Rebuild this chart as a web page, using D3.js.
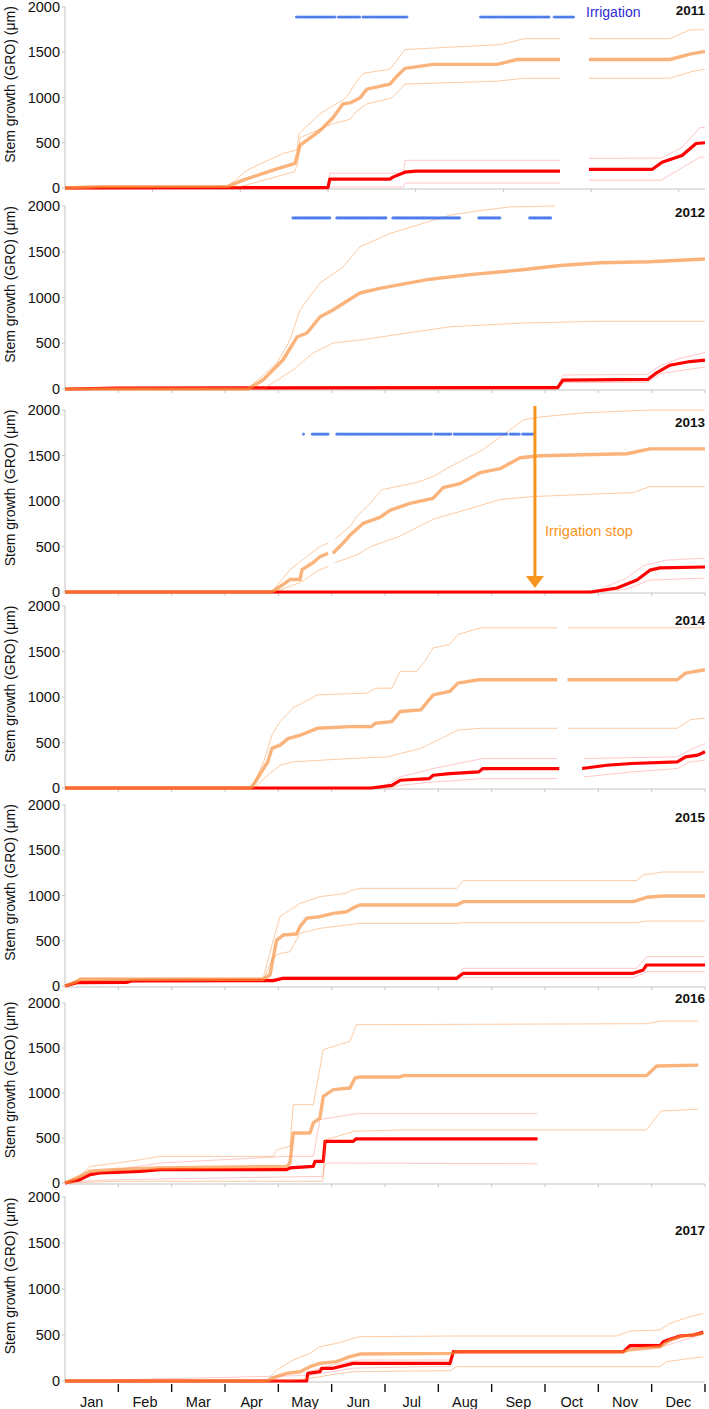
<!DOCTYPE html>
<html>
<head>
<meta charset="utf-8">
<script src="https://cdn.jsdelivr.net/npm/d3@7"></script>
<style>
  body { margin: 0; background: #fff; }
  text { font-family: "Liberation Sans", Arial, Helvetica, sans-serif; }
</style>
</head>
<body>
<svg id="chart" width="709" height="1409"></svg>
<script>
// values are [day of year, stem growth in um]; null marks a gap in the record

var years = [ 2011, 2012, 2013, 2014, 2015, 2016, 2017 ];
var months = [ 'Jan', 'Feb', 'Mar', 'Apr', 'May', 'Jun', 'Jul', 'Aug', 'Sep', 'Oct', 'Nov', 'Dec' ];
var yTicks = [ 0, 500, 1000, 1500, 2000 ];

// 2011
var irrMean2011 = [[0,0],[20,15],[93,18],[101.5,87],[118.6,197],[131.2,273],[134,470],[145.4,634],[152.8,776],[158.5,929],[162.5,940],[168.2,995],[172.2,1093],[185.3,1148],[189.3,1235],[193.9,1322],[209.9,1366],[246.4,1366],[257.8,1420],[282.3,1420],[283,null],[298.8,1420],[345,1420],[356.4,1480],[365,1510]];
var irrHigh2011 = [[0,0],[20,15],[93,20],[103.8,197],[124.3,382],[132.3,420],[133.4,601],[145.4,820],[160.2,995],[166.5,1180],[170,1268],[185.3,1311],[193.9,1530],[248.7,1585],[261.8,1650],[282.3,1650],[283,null],[298.8,1650],[345,1650],[356.4,1748],[365,1748]];
var irrLow2011 = [[0,0],[20,12],[100,15],[131,180],[132.8,273],[134,557],[152.8,710],[162.5,760],[166.5,852],[172.2,929],[186.4,995],[193.9,1148],[246.4,1180],[261.8,1213],[282.3,1213],[283,null],[298.8,1213],[345,1213],[358,1290],[365,1311]];
var ctlMean2011 = [[0,0],[150,5],[151,98],[185.3,98],[187,120],[193.9,175],[200,186],[282.3,186],[283,null],[298.8,205],[334.8,205],[340.5,284],[351.9,360],[359.9,492],[365,500]];
var ctlHigh2011 = [[0,0],[150,10],[151,164],[193,164],[194,306],[282.3,306],[283,null],[298.8,328],[340,330],[351.9,448],[359,600],[362,667],[365,667]];
var ctlLow2011 = [[0,0],[151,11],[193,11],[194,55],[282.3,55],[283,null],[298.8,87],[340,87],[362,339],[365,339]];
var irrigation2011 = [[132,154],[156,168],[170,195],[237,276],[279,290]];

// 2012
var irrMean2012 = [[0,0],[104.4,0],[112.9,98],[124.3,317],[132.3,568],[138,612],[145.4,787],[152.8,863],[168.2,1049],[179.6,1100],[191,1140],[208.2,1200],[231,1250],[259.5,1300],[282.3,1350],[305,1380],[333.6,1390],[365,1420]];
var irrHigh2012 = [[0,0],[104,0],[120.9,284],[128.3,535],[134,863],[145.4,1158],[158.5,1333],[168.2,1552],[185.3,1700],[202.5,1800],[219.6,1900],[236.7,1950],[253.8,1990],[279.4,2000]];
var irrLow2012 = [[0,0],[112.9,0],[130,207],[141.4,393],[152.8,503],[168.2,535],[191,600],[219.6,680],[259.5,720],[305,740],[365,740]];
var ctlMean2012 = [[0,0],[30,10],[281,15],[284,98],[332.5,106],[337.6,180],[345,260],[356.4,300],[365,315]];
var ctlHigh2012 = [[0,0],[30,12],[281,30],[284,153],[332,160],[340,260],[350,330],[365,400]];
var ctlLow2012 = [[0,0],[281,5],[284,70],[332,75],[340,170],[365,240]];
var irrigation2012 = [[130,151],[155,183],[187,225],[236,248],[265,277]];

// 2013
var irrMean2013 = [[0,0],[118,0],[122.6,60],[128.3,137],[134,137],[135.2,246],[141.4,322],[145.4,388],[150,426],[151,null],[152.8,426],[158.5,535],[162.5,623],[170,754],[179.6,820],[185.3,897],[196.7,973],[209.9,1028],[215.6,1147],[225.3,1191],[236.7,1311],[248.1,1355],[259.5,1475],[270.9,1497],[320.5,1519],[333.6,1573],[365,1573]];
var irrHigh2013 = [[0,0],[118,0],[128.3,246],[145.4,500],[150,535],[151,null],[154,580],[162.5,721],[166.5,830],[173.3,962],[181,1126],[200.4,1202],[209.9,1268],[219.6,1378],[238.4,1563],[253.8,1781],[261.3,1890],[270.9,1923],[295.4,1968],[333.6,2000],[365,2000]];
var irrLow2013 = [[0,0],[118,0],[123.7,30],[134,104],[145.4,246],[150,280],[151,null],[154,322],[162.5,380],[168.2,426],[174.4,500],[191,612],[209.7,798],[229.3,907],[248.1,1016],[266.9,1049],[323.9,1093],[333.6,1158],[365,1158]];
var ctlMean2013 = [[0,0],[300,0],[314.8,44],[326.2,131],[333.6,240],[339.3,265],[365,275]];
var ctlHigh2013 = [[0,0],[295,0],[305,30],[320,150],[330,290],[343,350],[365,372]];
var ctlLow2013 = [[0,0],[305,0],[320,30],[333.6,131],[365,153]];
var irrigation2013 = [[136,136],[141,150],[155,209],[211,220],[222,252],[254,259],[261,267]];

// 2014
var irrMean2014 = [[0,0],[106,0],[108.5,66],[110.9,140],[115.6,287],[118,435],[122.7,471],[127.4,545],[134.5,582],[143.9,656],[162.8,674],[174.6,674],[177,711],[186.4,729],[191.1,840],[202.9,858],[210,1024],[219.4,1061],[224.1,1153],[236,1190],[280.7,1190],[282,null],[286.6,1190],[349.2,1190],[353.9,1263],[365,1300]];
var irrHigh2014 = [[0,0],[106,0],[107.4,30],[113.3,287],[118,582],[122.7,729],[129.8,876],[143.9,1024],[172.2,1042],[177,1097],[186.4,1097],[191.1,1282],[200.5,1282],[205.3,1392],[210,1540],[219.4,1576],[224.1,1687],[237.1,1760],[280.7,1760],[282,null],[286.6,1760],[365,1760]];
var irrLow2014 = [[0,0],[107,0],[108.5,11],[115.6,140],[122.7,250],[129.8,287],[162.8,324],[184,342],[191.1,379],[202.9,435],[214.7,545],[224.1,637],[237.1,656],[280.7,656],[282,null],[286.6,656],[349.2,656],[356.3,748],[363.3,766],[365,766]];
var ctlMean2014 = [[0,0],[174.6,0],[186.4,29],[191.1,85],[207.6,103],[210,140],[219.4,158],[236,177],[238.3,214],[281.9,214],[283,null],[294.9,214],[309,250],[323.2,269],[349.2,287],[353.9,342],[360.9,361],[365,398]];
var ctlHigh2014 = [[0,0],[180,0],[191.1,122],[210,214],[238.3,324],[280.7,324],[282,null],[296,324],[349.2,342],[356.3,416],[365,490]];
var ctlLow2014 = [[0,0],[185,0],[191.1,29],[210,66],[238.3,103],[280.7,103],[282,null],[296,122],[323.2,177],[349.2,214],[356.3,287],[365,306]];
var irrigation2014 = [];

// 2015
var irrMean2015 = [[0,0],[6.7,48],[8.6,74],[113,74],[116.9,122],[120.7,508],[124.5,563],[132,575],[134,656],[137.8,748],[145.4,766],[153,803],[160.6,821],[164,860],[168.2,895],[223.4,895],[227.2,932],[324.1,932],[331.7,980],[341.2,994],[365,994]];
var irrHigh2015 = [[0,0],[6.7,66],[8.6,85],[113,85],[118.8,508],[122.6,766],[134,913],[145.4,987],[160.6,1024],[162.5,1050],[168.2,1079],[223.4,1079],[227.2,1164],[326,1164],[329.8,1226],[341.2,1260],[365,1260]];
var irrLow2015 = [[0,0],[8.6,59],[113,59],[118.8,324],[122.6,361],[128.3,379],[134,582],[145.4,637],[168.2,692],[223.4,692],[227.2,700],[326,700],[331.7,718],[365,718]];
var ctlMean2015 = [[0,0],[6.7,37],[35,40],[38,55],[118.8,59],[124.5,85],[223.4,85],[227.2,140],[324.1,140],[329.8,177],[331.7,232],[365,232]];
var ctlHigh2015 = [[0,0],[6.7,55],[38,70],[118,75],[124.5,100],[223.4,100],[227.2,195],[326,195],[331.7,324],[365,324]];
var ctlLow2015 = [[0,0],[6.7,25],[38,45],[124.5,70],[223.4,70],[227.2,92],[324.1,92],[329.8,140],[331.7,158],[365,158]];
var irrigation2015 = [];

// 2016
var irrMean2016 = [[0,0],[8.6,74],[14.3,130],[29.5,150],[42.8,160],[54.2,167],[126.4,185],[128.3,222],[130.2,556],[139.7,556],[141.6,667],[145.4,722],[147.3,963],[153,1037],[162.5,1056],[165.4,1167],[168.2,1178],[191,1178],[193,1193],[331.7,1193],[337.4,1300],[361.2,1310]];
var irrHigh2016 = [[0,0],[4.7,0],[14.3,185],[29.5,222],[42.8,259],[54.2,296],[118.8,296],[120.7,370],[128.3,407],[130.2,870],[141.6,870],[147.3,1482],[162.5,1574],[166.3,1759],[331.7,1770],[340.2,1800],[361.2,1800]];
var irrLow2016 = [[0,0],[29.5,19],[147,19],[148.5,480],[165,574],[191,590],[331.7,590],[340,800],[361.2,820]];
var ctlMean2016 = [[0,0],[8.6,37],[14.3,93],[20,111],[42.8,130],[54.2,148],[126.4,148],[128.3,167],[141.6,185],[142.6,241],[147.3,241],[148.3,463],[164.4,463],[166,491],[269.5,491]];
var ctlHigh2016 = [[0,0],[8.6,74],[29.5,148],[54.2,222],[126.4,296],[141.6,296],[145.4,704],[166,770],[269.5,770]];
var ctlLow2016 = [[0,0],[8.6,19],[29.5,37],[147.3,74],[148.3,222],[269.5,214]];
var irrigation2016 = [];

// 2017
var irrMean2017 = [[0,0],[115,0],[120.7,47],[126.4,83],[134,101],[139.7,156],[145.4,192],[154.9,210],[162.5,264],[168.2,293],[221.5,300],[222.5,319],[318.4,319],[322.2,340],[339.3,373],[345,445],[350.7,482],[364,518]];
var irrHigh2017 = [[0,0],[115,0],[120.7,120],[130.2,228],[139.7,301],[145.4,373],[154.9,409],[164.4,464],[168.2,482],[223.4,489],[314.6,489],[322.2,543],[339.3,554],[345,627],[356.4,699],[364,735]];
var irrLow2017 = [[0,0],[125,0],[130.2,11],[139.7,29],[151.1,65],[164.4,101],[219.6,112],[223.4,156],[339.3,156],[343.1,210],[364,264]];
var ctlMean2017 = [[0,0],[137.8,0],[138.5,83],[145.4,101],[146.4,138],[152.8,138],[164.4,192],[219.6,192],[221.5,319],[318.4,319],[322.2,384],[339.3,384],[341.2,427],[345,453],[350.7,489],[358.3,500],[364,529]];
var ctlHigh2017 = [[0,0],[137.8,0],[138.5,101],[152.8,174],[168,228],[219.6,228],[221.5,330],[318.4,330],[322.2,400],[339.3,400],[364,545]];
var ctlLow2017 = [[0,0],[138.5,60],[164.4,140],[219.6,160],[221.5,300],[318.4,305],[322.2,360],[339.3,365],[364,510]];
var irrigation2017 = [];

var irrigationLevel = { 2011: 1890, 2012: 1870, 2013: 1735 };
var irrigationStopDay = 268;

var panelData = {
    2011: [ irrMean2011, irrHigh2011, irrLow2011, ctlMean2011, ctlHigh2011, ctlLow2011, irrigation2011 ],
    2012: [ irrMean2012, irrHigh2012, irrLow2012, ctlMean2012, ctlHigh2012, ctlLow2012, irrigation2012 ],
    2013: [ irrMean2013, irrHigh2013, irrLow2013, ctlMean2013, ctlHigh2013, ctlLow2013, irrigation2013 ],
    2014: [ irrMean2014, irrHigh2014, irrLow2014, ctlMean2014, ctlHigh2014, ctlLow2014, irrigation2014 ],
    2015: [ irrMean2015, irrHigh2015, irrLow2015, ctlMean2015, ctlHigh2015, ctlLow2015, irrigation2015 ],
    2016: [ irrMean2016, irrHigh2016, irrLow2016, ctlMean2016, ctlHigh2016, ctlLow2016, irrigation2016 ],
    2017: [ irrMean2017, irrHigh2017, irrLow2017, ctlMean2017, ctlHigh2017, ctlLow2017, irrigation2017 ]
};

// layout
var panelTop = [ 7, 206, 410, 606, 805, 1003, 1197 ];
var panelZero = [ 188, 389, 592, 788, 986, 1183, 1381 ];
var yearLabelY = [ 15, 217, 427, 625, 822, 1003, 1235 ];

var svg = d3.select( '#chart' );
var x = d3.scaleLinear().domain( [ 0, 365 ] ).range( [ 65, 705 ] );

var orange = '#f98b35';
var red = '#ff0000';

years.forEach( function( yr, i ) {
    var d = panelData[ yr ];
    var y = d3.scaleLinear().domain( [ 0, 2000 ] ).range( [ panelZero[ i ], panelTop[ i ] ] );
    var g = svg.append( 'g' );

    // y axis
    g.append( 'line' )
        .attr( 'x1', 65 ).attr( 'x2', 65 )
        .attr( 'y1', y( 2000 ) ).attr( 'y2', y( 0 ) )
        .attr( 'stroke', '#c4c4c4' ).attr( 'stroke-width', 1 );
    g.selectAll( '.ytick' ).data( yTicks ).enter().append( 'line' )
        .attr( 'x1', 62 ).attr( 'x2', 65 )
        .attr( 'y1', function( v ) { return y( v ); } )
        .attr( 'y2', function( v ) { return y( v ); } )
        .attr( 'stroke', '#c4c4c4' );
    g.selectAll( '.ylab' ).data( yTicks ).enter().append( 'text' )
        .attr( 'x', 60 )
        .attr( 'y', function( v ) { return Math.max( y( v ) + 5, 12 ); } )
        .attr( 'text-anchor', 'end' )
        .style( 'font-size', '14.5px' )
        .attr( 'fill', '#111' )
        .text( function( v ) { return v; } );

    g.append( 'text' )
        .attr( 'transform', 'translate(15,' + ( y( 1000 ) - 13 ) + ') rotate(-90)' )
        .attr( 'text-anchor', 'middle' )
        .style( 'font-size', '14px' )
        .attr( 'fill', '#111' )
        .text( 'Stem growth (GRO) (\u03bcm)' );

    // x axis
    g.append( 'line' )
        .attr( 'x1', 65 ).attr( 'x2', 705 )
        .attr( 'y1', y( 0 ) + 1 ).attr( 'y2', y( 0 ) + 1 )
        .attr( 'stroke', '#c4c4c4' ).attr( 'stroke-width', 1.2 );

    var ticks = yr === 2011 ? d3.range( 50, 365, 50 ) : d3.range( 1, 13 ).map( function( m ) { return m * 365 / 12; } );
    if ( i < years.length - 1 ) {
        g.selectAll( '.xtick' ).data( ticks ).enter().append( 'line' )
            .attr( 'x1', function( t ) { return x( t ); } )
            .attr( 'x2', function( t ) { return x( t ); } )
            .attr( 'y1', y( 0 ) + 1 ).attr( 'y2', y( 0 ) + 4 )
            .attr( 'stroke', '#c4c4c4' );
    } else {
        g.selectAll( '.xtick' ).data( ticks ).enter().append( 'line' )
            .attr( 'x1', function( t ) { return x( t ); } )
            .attr( 'x2', function( t ) { return x( t ); } )
            .attr( 'y1', y( 0 ) + 3 ).attr( 'y2', y( 0 ) + 11 )
            .attr( 'stroke', '#111' ).attr( 'stroke-width', 1.4 );
        g.selectAll( '.month' ).data( months ).enter().append( 'text' )
            .attr( 'x', function( m, k ) { return x( ( k + 0.5 ) * 365 / 12 ); } )
            .attr( 'y', y( 0 ) + 26 )
            .attr( 'text-anchor', 'middle' )
            .style( 'font-size', '14.5px' )
            .attr( 'fill', '#111' )
            .text( function( m ) { return m; } );
    }

    // year
    g.append( 'text' )
        .attr( 'x', 705 ).attr( 'y', yearLabelY[ i ] )
        .attr( 'text-anchor', 'end' )
        .style( 'font-size', '13.5px' ).style( 'font-weight', 'bold' )
        .attr( 'fill', '#111' )
        .text( yr );

    var line = d3.line()
        .defined( function( p ) { return p[ 1 ] !== null; } )
        .x( function( p ) { return x( p[ 0 ] ); } )
        .y( function( p ) { return y( p[ 1 ] ); } );

    var series = [
        { data: d[ 4 ], color: red, width: 1, opacity: 0.22 },
        { data: d[ 5 ], color: red, width: 1, opacity: 0.22 },
        { data: d[ 3 ], color: red, width: 3.2, opacity: 1 },
        { data: d[ 1 ], color: orange, width: 1, opacity: 0.45 },
        { data: d[ 2 ], color: orange, width: 1, opacity: 0.45 },
        { data: d[ 0 ], color: orange, width: 3.4, opacity: 0.65 }
    ];
    g.selectAll( '.series' ).data( series ).enter().append( 'path' )
        .attr( 'd', function( s ) { return line( s.data ); } )
        .attr( 'fill', 'none' )
        .attr( 'stroke', function( s ) { return s.color; } )
        .attr( 'stroke-width', function( s ) { return s.width; } )
        .attr( 'stroke-opacity', function( s ) { return s.opacity; } )
        .attr( 'stroke-linejoin', 'round' );

    // irrigation days, one dot per day
    var days = [];
    d[ 6 ].forEach( function( r ) {
        days = days.concat( d3.range( r[ 0 ], r[ 1 ] + 0.01, 1 ) );
    });
    g.selectAll( '.irr' ).data( days ).enter().append( 'circle' )
        .attr( 'cx', function( t ) { return x( t ); } )
        .attr( 'cy', y( irrigationLevel[ yr ] || 0 ) )
        .attr( 'r', 1.55 )
        .attr( 'fill', '#3a6ee8' )
        .attr( 'fill-opacity', 0.8 );

    if ( yr === 2011 ) {
        g.append( 'text' )
            .attr( 'x', 586 ).attr( 'y', 17 )
            .style( 'font-size', '14px' )
            .attr( 'fill', '#2c2cd8' )
            .text( 'Irrigation' );
    }

    if ( yr === 2013 ) {
        var ax = x( irrigationStopDay );
        g.append( 'line' )
            .attr( 'x1', ax ).attr( 'x2', ax )
            .attr( 'y1', y( 2000 ) - 4 ).attr( 'y2', y( 0 ) - 14 )
            .attr( 'stroke', '#f7941d' ).attr( 'stroke-width', 3 );
        g.append( 'path' )
            .attr( 'd', 'M' + ( ax - 9 ) + ',' + ( y( 0 ) - 16 ) + 'L' + ( ax + 9 ) + ',' + ( y( 0 ) - 16 ) + 'L' + ax + ',' + ( y( 0 ) - 4 ) + 'Z' )
            .attr( 'fill', '#f7941d' );
        g.append( 'text' )
            .attr( 'x', ax + 10 ).attr( 'y', y( 0 ) - 56 )
            .style( 'font-size', '14.5px' )
            .attr( 'fill', '#f7941d' )
            .text( 'Irrigation stop' );
    }
});
</script>
</body>
</html>
